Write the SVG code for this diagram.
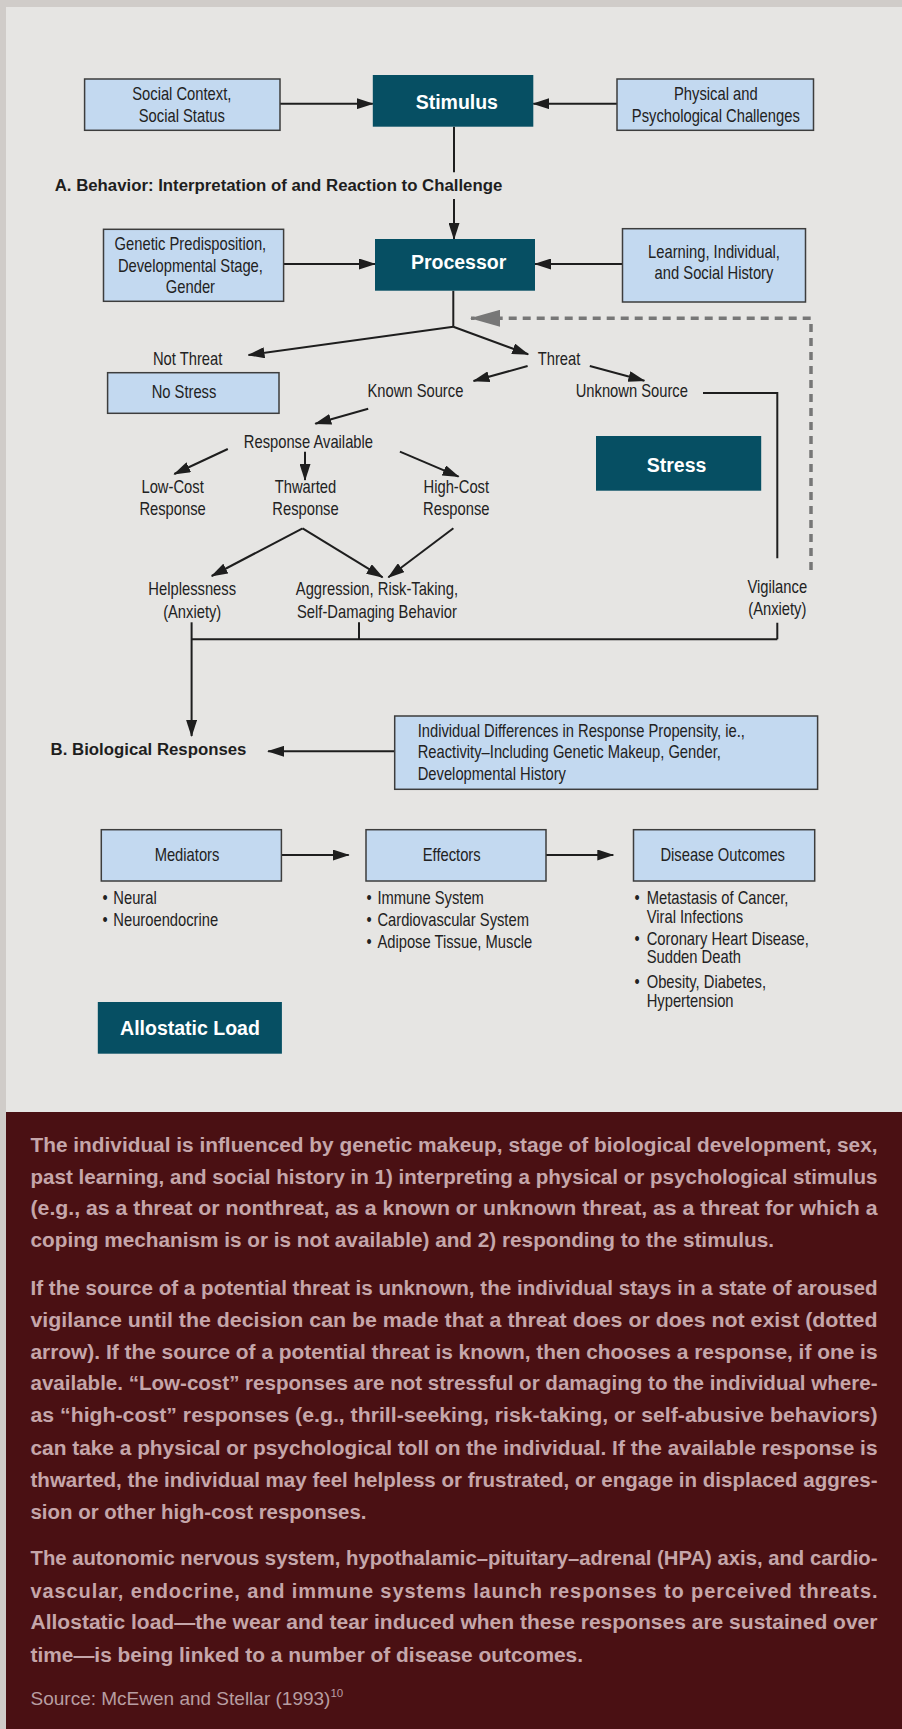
<svg xmlns="http://www.w3.org/2000/svg" width="902" height="1729" viewBox="0 0 902 1729">
<defs>
<style>
.bx{fill:#c3d9f0;stroke:#3d3d3d;stroke-width:1.5}
.dk{fill:#064f63}
.t{font-family:'Liberation Sans',Arial,sans-serif;font-size:18px;fill:#222}
.c{text-anchor:middle}
.w{font-family:'Liberation Sans',Arial,sans-serif;font-size:19.5px;font-weight:bold;fill:#fff;text-anchor:middle}
.h{font-family:'Liberation Sans',Arial,sans-serif;font-size:16.8px;font-weight:bold;fill:#1e1e1e}
.ln{fill:none;stroke:#1e1e1e;stroke-width:2}
.ar{marker-end:url(#ah)}
.p{font-family:'Liberation Sans',Arial,sans-serif;font-size:20px;font-weight:bold;fill:#c5a6aa}
.s{font-family:'Liberation Sans',Arial,sans-serif;font-size:19px;fill:#b89da1}
</style>
<marker id="ah" markerUnits="userSpaceOnUse" markerWidth="17" markerHeight="11" refX="16" refY="5.5" orient="auto"><path d="M0,0 L17,5.5 L0,11 z" fill="#1e1e1e"/></marker>
<marker id="gh" markerUnits="userSpaceOnUse" markerWidth="30" markerHeight="17" refX="29" refY="8.5" orient="auto"><path d="M0,0 L30,8.5 L0,17 z" fill="#777"/></marker>
</defs>
<rect x="0" y="0" width="902" height="1729" fill="#d0ccc9"/>
<rect x="6" y="7" width="896" height="1105" fill="#e6e5e3"/>
<rect x="6" y="1112" width="896" height="617" fill="#4a1013"/>

<g id="connectors">
<path class="ln ar" d="M280,103.7 H372.8"/>
<path class="ln ar" d="M617,103.7 H533.3"/>
<path class="ln" d="M454,126.7 V172.3"/>
<path class="ln ar" d="M454,199 V239"/>
<path class="ln ar" d="M283.6,264 H375"/>
<path class="ln ar" d="M622.5,264 H535"/>
<path class="ln" d="M453.3,290.7 V326.7"/>
<path class="ln ar" d="M453.3,326.7 L248.5,355"/>
<path class="ln ar" d="M453.3,326.7 L528.2,354.3"/>
<path class="ln ar" d="M527.6,366 L473.5,381"/>
<path class="ln ar" d="M589.8,366 L644.4,380.7"/>
<path class="ln" d="M703,393 H777.3 V558.3"/>
<path class="ln ar" d="M368.2,408.7 L315.3,423.7"/>
<path class="ln ar" d="M227.8,449 L174.3,474"/>
<path class="ln ar" d="M305,451.7 V480"/>
<path class="ln ar" d="M399.9,451.7 L458.6,476.7"/>
<path class="ln ar" d="M302.6,528.3 L211.7,576"/>
<path class="ln ar" d="M302.6,528.3 L382.6,577.3"/>
<path class="ln ar" d="M453.4,528.3 L388.4,577.3"/>
<path class="ln" d="M359,622.3 V639.3 M777.3,622.7 V639.3 M191.6,639.3 H777.3"/>
<path class="ln ar" d="M191.6,622.3 V736"/>
<path d="M811,570 V318.3 H471" fill="none" stroke="#777" stroke-width="3.5" stroke-dasharray="8 6" marker-end="url(#gh)"/>
<path class="ln ar" d="M394.7,751.3 H268.1"/>
<path class="ln ar" d="M281.4,855 H348.7"/>
<path class="ln ar" d="M546,855 H613.3"/>
</g>

<g id="social"><rect class="bx" x="84.6" y="79" width="195.4" height="51.3"/><text class="t c" transform="translate(181.8,100) scale(0.82,1)">Social Context,</text><text class="t c" transform="translate(181.8,121.7) scale(0.82,1)">Social Status</text></g>
<g id="stimulus"><rect class="dk" x="372.8" y="75" width="160.5" height="51.7"/><text class="w" x="456.8" y="109">Stimulus</text></g>
<g id="physical"><rect class="bx" x="617" y="79" width="196.5" height="51.3"/><text class="t c" transform="translate(715.8,100) scale(0.82,1)">Physical and</text><text class="t c" transform="translate(715.8,121.7) scale(0.82,1)">Psychological Challenges</text></g>
<g id="label-a"><text class="h" x="54.7" y="190.7">A. Behavior: Interpretation of and Reaction to Challenge</text></g>
<g id="genetic"><rect class="bx" x="103.5" y="229.3" width="180.1" height="72"/><text class="t c" transform="translate(190.4,250) scale(0.82,1)">Genetic Predisposition,</text><text class="t c" transform="translate(190.4,271.7) scale(0.82,1)">Developmental Stage,</text><text class="t c" transform="translate(190.4,292.7) scale(0.82,1)">Gender</text></g>
<g id="processor"><rect class="dk" x="375" y="239" width="160" height="51.7"/><text class="w" x="458.6" y="269.3">Processor</text></g>
<g id="learning"><rect class="bx" x="622.5" y="228.7" width="183" height="73.3"/><text class="t c" transform="translate(714,257.7) scale(0.82,1)">Learning, Individual,</text><text class="t c" transform="translate(714,279.3) scale(0.82,1)">and Social History</text></g>

<g id="not-threat"><text class="t c" transform="translate(187.6,365.3) scale(0.82,1)">Not Threat</text></g>
<g id="no-stress"><rect class="bx" x="107.6" y="372.7" width="171.4" height="40.6"/><text class="t c" transform="translate(184,398) scale(0.82,1)">No Stress</text></g>
<g id="threat"><text class="t c" transform="translate(559,365) scale(0.82,1)">Threat</text></g>
<g id="known"><text class="t c" transform="translate(415.4,396.7) scale(0.82,1)">Known Source</text></g>
<g id="unknown"><text class="t c" transform="translate(631.8,396.7) scale(0.82,1)">Unknown Source</text></g>
<g id="response-available"><text class="t c" transform="translate(308.4,447.7) scale(0.82,1)">Response Available</text></g>
<g id="stress"><rect class="dk" x="596" y="436" width="165.2" height="54.7"/><text class="w" x="676.6" y="472">Stress</text></g>
<g id="low-cost"><text class="t c" transform="translate(172.6,493.3) scale(0.82,1)">Low-Cost</text><text class="t c" transform="translate(172.6,515.3) scale(0.82,1)">Response</text></g>
<g id="thwarted"><text class="t c" transform="translate(305.5,493.3) scale(0.82,1)">Thwarted</text><text class="t c" transform="translate(305.5,515.3) scale(0.82,1)">Response</text></g>
<g id="high-cost"><text class="t c" transform="translate(456.3,493.3) scale(0.82,1)">High-Cost</text><text class="t c" transform="translate(456.3,515.3) scale(0.82,1)">Response</text></g>
<g id="helplessness"><text class="t c" transform="translate(192.2,595.3) scale(0.82,1)">Helplessness</text><text class="t c" transform="translate(192.2,617.7) scale(0.82,1)">(Anxiety)</text></g>
<g id="aggression"><text class="t c" transform="translate(376.9,595.3) scale(0.82,1)">Aggression, Risk-Taking,</text><text class="t c" transform="translate(376.9,617.7) scale(0.82,1)">Self-Damaging Behavior</text></g>
<g id="vigilance"><text class="t c" transform="translate(777.3,592.7) scale(0.82,1)">Vigilance</text><text class="t c" transform="translate(777.3,614.7) scale(0.82,1)">(Anxiety)</text></g>

<g id="label-b"><text class="h" x="50.6" y="755">B. Biological Responses</text></g>
<g id="individual"><rect class="bx" x="394.7" y="716" width="422.9" height="73.3"/><text class="t" transform="translate(417.7,736.5) scale(0.82,1)">Individual Differences in Response Propensity, ie.,</text><text class="t" transform="translate(417.7,758) scale(0.82,1)">Reactivity–Including Genetic Makeup, Gender,</text><text class="t" transform="translate(417.7,779.5) scale(0.82,1)">Developmental History</text></g>
<g id="mediators"><rect class="bx" x="101.3" y="829.7" width="180.1" height="51.3"/><text class="t c" transform="translate(187,861.3) scale(0.82,1)">Mediators</text><text class="t" transform="translate(102.4,904.3) scale(0.82,1)">•</text><text class="t" transform="translate(113.3,904.3) scale(0.82,1)">Neural</text><text class="t" transform="translate(102.4,926) scale(0.82,1)">•</text><text class="t" transform="translate(113.3,926) scale(0.82,1)">Neuroendocrine</text></g>
<g id="effectors"><rect class="bx" x="366" y="829.7" width="180" height="51.3"/><text class="t c" transform="translate(451.7,861.3) scale(0.82,1)">Effectors</text><text class="t" transform="translate(366.5,904.3) scale(0.82,1)">•</text><text class="t" transform="translate(377.4,904.3) scale(0.82,1)">Immune System</text><text class="t" transform="translate(366.5,926) scale(0.82,1)">•</text><text class="t" transform="translate(377.4,926) scale(0.82,1)">Cardiovascular System</text><text class="t" transform="translate(366.5,947.7) scale(0.82,1)">•</text><text class="t" transform="translate(377.4,947.7) scale(0.82,1)">Adipose Tissue, Muscle</text></g>
<g id="disease"><rect class="bx" x="633.5" y="829.7" width="181.2" height="51.3"/><text class="t c" transform="translate(722.7,861.3) scale(0.82,1)">Disease Outcomes</text><text class="t" transform="translate(634.6,904.3) scale(0.82,1)">•</text><text class="t" transform="translate(646.7,904.3) scale(0.82,1)">Metastasis of Cancer,</text><text class="t" transform="translate(646.7,922.7) scale(0.82,1)">Viral Infections</text><text class="t" transform="translate(634.6,945.3) scale(0.82,1)">•</text><text class="t" transform="translate(646.7,945.3) scale(0.82,1)">Coronary Heart Disease,</text><text class="t" transform="translate(646.7,963.3) scale(0.82,1)">Sudden Death</text><text class="t" transform="translate(634.6,988.3) scale(0.82,1)">•</text><text class="t" transform="translate(646.7,988.3) scale(0.82,1)">Obesity, Diabetes,</text><text class="t" transform="translate(646.7,1006.7) scale(0.82,1)">Hypertension</text></g>
<g id="allostatic"><rect class="dk" x="97.8" y="1002" width="184.1" height="51.7"/><text class="w" x="190" y="1035">Allostatic Load</text></g>

<g id="caption">
<text class="p" x="30.5" y="1152" textLength="847" lengthAdjust="spacingAndGlyphs">The individual is influenced by genetic makeup, stage of biological development, sex,</text>
<text class="p" x="30.5" y="1183.7" textLength="847" lengthAdjust="spacingAndGlyphs">past learning, and social history in 1) interpreting a physical or psychological stimulus</text>
<text class="p" x="30.5" y="1215.3" textLength="847" lengthAdjust="spacingAndGlyphs">(e.g., as a threat or nonthreat, as a known or unknown threat, as a threat for which a</text>
<text class="p" x="30.5" y="1247" textLength="743.5" lengthAdjust="spacingAndGlyphs">coping mechanism is or is not available) and 2) responding to the stimulus.</text>
<text class="p" x="30.5" y="1295.3" textLength="847" lengthAdjust="spacingAndGlyphs">If the source of a potential threat is unknown, the individual stays in a state of aroused</text>
<text class="p" x="30.5" y="1327" textLength="847" lengthAdjust="spacingAndGlyphs">vigilance until the decision can be made that a threat does or does not exist (dotted</text>
<text class="p" x="30.5" y="1358.7" textLength="847" lengthAdjust="spacingAndGlyphs">arrow). If the source of a potential threat is known, then chooses a response, if one is</text>
<text class="p" x="30.5" y="1390.3" textLength="847" lengthAdjust="spacingAndGlyphs">available. “Low-cost” responses are not stressful or damaging to the individual where-</text>
<text class="p" x="30.5" y="1422" textLength="847" lengthAdjust="spacingAndGlyphs">as “high-cost” responses (e.g., thrill-seeking, risk-taking, or self-abusive behaviors)</text>
<text class="p" x="30.5" y="1455.3" textLength="847" lengthAdjust="spacingAndGlyphs">can take a physical or psychological toll on the individual. If the available response is</text>
<text class="p" x="30.5" y="1487" textLength="847" lengthAdjust="spacingAndGlyphs">thwarted, the individual may feel helpless or frustrated, or engage in displaced aggres-</text>
<text class="p" x="30.5" y="1518.7" textLength="336" lengthAdjust="spacingAndGlyphs">sion or other high-cost responses.</text>
<text class="p" x="30.5" y="1565.3" textLength="847" lengthAdjust="spacingAndGlyphs">The autonomic nervous system, hypothalamic–pituitary–adrenal (HPA) axis, and cardio-</text>
<text class="p" x="30.5" y="1597.7" textLength="847" lengthAdjust="spacing">vascular, endocrine, and immune systems launch responses to perceived threats.</text>
<text class="p" x="30.5" y="1629.3" textLength="847" lengthAdjust="spacingAndGlyphs">Allostatic load—the wear and tear induced when these responses are sustained over</text>
<text class="p" x="30.5" y="1662" textLength="552.5" lengthAdjust="spacingAndGlyphs">time—is being linked to a number of disease outcomes.</text>
<text class="s" x="30.5" y="1705">Source: McEwen and Stellar (1993)<tspan font-size="11.5" dy="-8.5">10</tspan></text>
</g>
</svg>
